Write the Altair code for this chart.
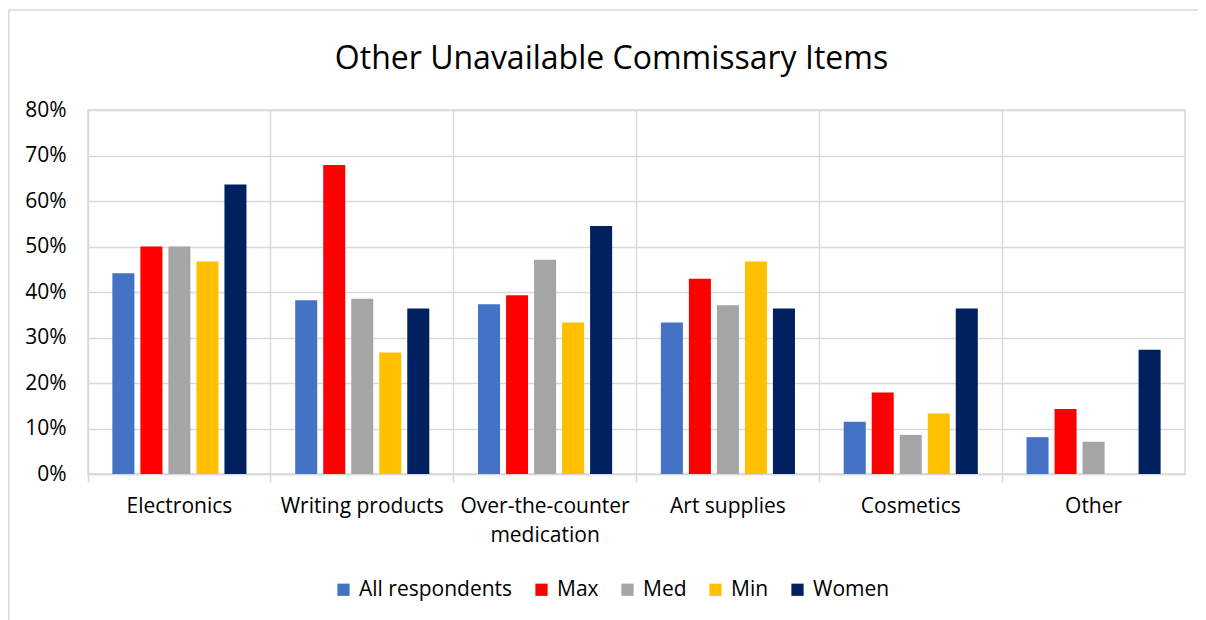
import altair as alt
import pandas as pd

categories = ["Electronics", "Writing products", "Over-the-counter medication",
              "Art supplies", "Cosmetics", "Other"]
groups = ["All respondents", "Max", "Med", "Min", "Women"]
colors = ["#4472C4", "#FF0000", "#A5A5A5", "#FFC000", "#002060"]

all_respondents = [0.441, 0.382, 0.373, 0.333, 0.115, 0.081]
max_vals = [0.500, 0.679, 0.393, 0.429, 0.179, 0.143]
med_vals = [0.500, 0.385, 0.471, 0.371, 0.086, 0.071]
min_vals = [0.467, 0.267, 0.333, 0.467, 0.133, None]
women_vals = [0.636, 0.364, 0.545, 0.364, 0.364, 0.273]

series = [all_respondents, max_vals, med_vals, min_vals, women_vals]
rows = []
for g, vals in zip(groups, series):
    for c, v in zip(categories, vals):
        if v is not None:
            rows.append({"Category": c, "Group": g, "Value": v})
df = pd.DataFrame(rows)

FONT = "Open Sans"
LBL = 21

bars = alt.Chart(df).mark_bar().encode(
    x=alt.X("Category:N", sort=categories, title=None,
            scale=alt.Scale(paddingInner=0, paddingOuter=0),
            axis=alt.Axis(bandPosition=0, grid=True, gridColor="#D9D9D9", gridWidth=1.5,
                          domainColor="#D9D9D9", domainWidth=1.5,
                          tickColor="#D9D9D9", tickWidth=1.5, tickSize=8,
                          labelAngle=0, labelFontSize=LBL, labelColor="#000000",
                          labelFont=FONT, labelPadding=13,
                          labelExpr="datum.label == 'Over-the-counter medication' ? ['Over-the-counter', 'medication'] : datum.label",
                          labelBound=False, labelOverlap=False, labelLineHeight=29,
                          labelAlign="center", labelBaseline="top")),
    xOffset=alt.XOffset("Group:N", sort=groups,
                        scale=alt.Scale(paddingInner=0.214, paddingOuter=0.87)),
    y=alt.Y("Value:Q", title=None,
            scale=alt.Scale(domain=[0, 0.8], nice=False),
            axis=alt.Axis(format=".0%", values=[0, 0.1, 0.2, 0.3, 0.4, 0.5, 0.6, 0.7, 0.8],
                          grid=True, gridColor="#D9D9D9", gridWidth=1.5,
                          domain=False, ticks=False, labelFontSize=LBL,
                          labelColor="#000000", labelFont=FONT, labelPadding=22)),
    color=alt.Color("Group:N", sort=groups,
                    scale=alt.Scale(domain=groups, range=colors),
                    legend=alt.Legend(title=None, orient="none", direction="horizontal",
                                      columns=5, legendX=245, legendY=469,
                                      symbolType="square", symbolSize=150,
                                      symbolStrokeWidth=0,
                                      labelFontSize=LBL, labelFont=FONT,
                                      labelColor="#000000", labelOffset=5,
                                      columnPadding=18)),
)

# light gray outer chart frame (left and top edges)
frame_df = pd.DataFrame({"f": [0]})
frame_left = alt.Chart(frame_df).mark_rule(color="#D9D9D9", strokeWidth=1.5).encode(
    x=alt.value(-79.2), y=alt.value(-100), y2=alt.value(540)
)
frame_top = alt.Chart(frame_df).mark_rule(color="#D9D9D9", strokeWidth=1.5).encode(
    x=alt.value(-79.2), x2=alt.value(1130), y=alt.value(-100)
)

chart = alt.layer(frame_left, frame_top, bars).properties(
    width=1097,
    height=364,
    title=alt.TitleParams("Other Unavailable Commissary Items", fontSize=32,
                          font=FONT, fontWeight="normal", color="#000000",
                          anchor="middle", dx=-25, offset=-67),
    autosize=alt.AutoSizeParams(type="none"),
    padding={"left": 80, "top": 102, "right": 13, "bottom": 150},
).configure_view(
    stroke="#D9D9D9", strokeWidth=1.5
)

chart.save("out.html", embed_options={"renderer": "svg", "actions": False})
